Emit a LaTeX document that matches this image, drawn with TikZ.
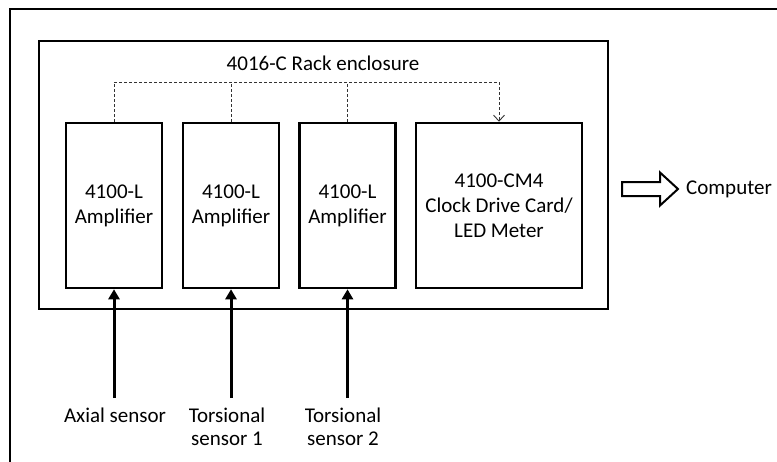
\documentclass[tikz,border=0pt]{standalone}
\usepackage{fontspec}
\setmainfont{Carlito}
\usetikzlibrary{arrows.meta}

\begin{document}
\begin{tikzpicture}[x=1pt,y=-1pt,
  every node/.style={font=\fontsize{21}{25}\selectfont},
  card/.style={draw, line width=2.5pt, minimum width=96pt, minimum height=165pt, align=center, inner sep=0pt},
  bus/.style={dash pattern=on 3pt off 2pt, line width=0.9pt, black!80},
  feed/.style={line width=3pt, -{Triangle[width=11pt,length=10pt]}},
  sensor/.style={font=\fontsize{21}{23}\selectfont, align=center, anchor=north, inner xsep=0pt, inner ysep=10pt}]
\useasboundingbox (0,0) rectangle (777,461);
\clip (0,0) rectangle (777,461);
\draw[line width=2pt] (10,480) -- (10,9) -- (800,9);
\node[draw, line width=2.5pt, minimum width=569pt, minimum height=268pt, inner sep=0pt] (rack) at (323.5,175) {};
\node (title) at (323,63) {4016-C Rack enclosure};
\node[card] (ampA) at (114,205.5) {4100-L\\Amplifier};
\node[card] (ampB) at (231,205.5) {4100-L\\Amplifier};
\node[card] (ampC) at (347.5,205.5) {4100-L\\Amplifier};
\node[card, minimum width=166pt] (clock) at (499,205.5) {4100-CM4\\Clock Drive Card/\\LED Meter};
\coordinate (busR) at (499,82);
\draw[bus] (ampA.north) |- (busR);
\draw[bus] (ampB.north) -- (ampB.north |- busR);
\draw[bus] (ampC.north) -- (ampC.north |- busR);
\draw[bus, -{Straight Barb[length=6pt,width=11pt]}] (busR) -- (clock.north);
\node[sensor] (axial) at (115,398) {Axial sensor};
\node[sensor] (torsA) at (227,398) {Torsional\\sensor 1};
\node[sensor] (torsB) at (343,398) {Torsional\\sensor 2};
\draw[feed] (ampA.south |- axial.north) -- (ampA.south);
\draw[feed] (ampB.south |- torsA.north) -- (ampB.south);
\draw[feed] (ampC.south |- torsB.north) -- (ampC.south);
\draw[line width=2pt, line join=miter] (622,182) -- (660,182) -- (660,172.5) -- (678,189) -- (660,205.5) -- (660,196) -- (622,196) -- cycle;
\node[anchor=west, inner sep=0pt] (computer) at (686,189) {Computer};
\end{tikzpicture}
\end{document}
